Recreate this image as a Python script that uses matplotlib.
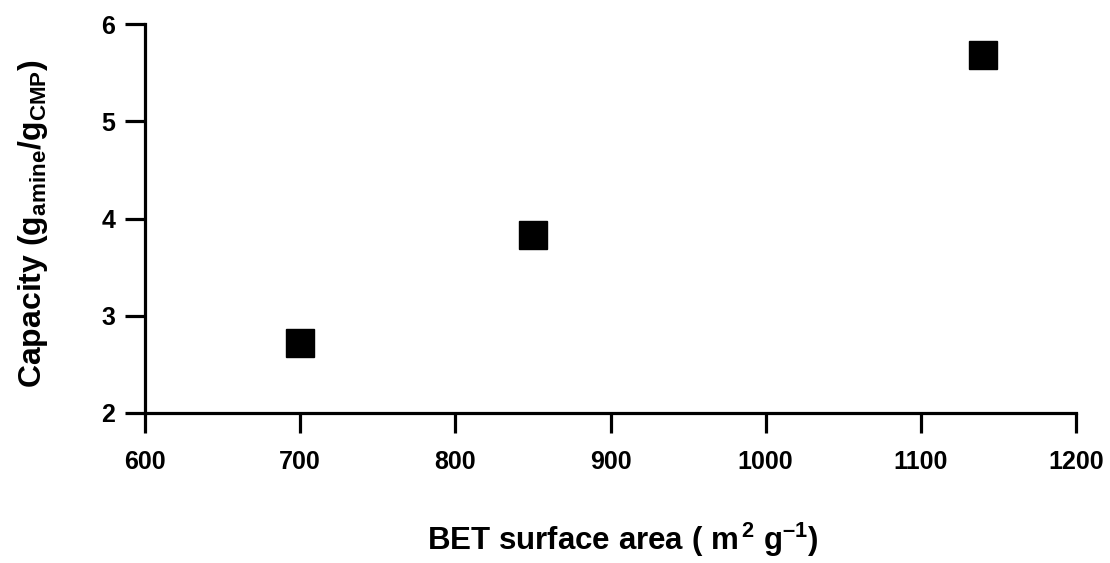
import matplotlib
matplotlib.use("Agg")
import matplotlib.pyplot as plt

bet_area = [700, 850, 1140]
capacity = [2.72, 3.83, 5.68]
x_ticks = [600, 700, 800, 900, 1000, 1100, 1200]
y_ticks = [2, 3, 4, 5, 6]

plt.rcParams['font.family'] = ['Liberation Sans', 'DejaVu Sans']
plt.rcParams['font.weight'] = 'bold'
plt.rcParams['mathtext.fontset'] = 'custom'
plt.rcParams['mathtext.rm'] = 'Liberation Sans:bold'
plt.rcParams['mathtext.it'] = 'Liberation Sans:bold'
plt.rcParams['mathtext.bf'] = 'Liberation Sans:bold'

fig = plt.figure(figsize=(11.1, 5.63), dpi=100)
ax = fig.add_axes([145/1110, 1-413/563, (1076-145)/1110, (413-24)/563])

ax.plot(bet_area, capacity, linestyle='none', marker='s', markersize=20,
        color='black', markeredgecolor='black', clip_on=False)

ax.set_xlim(600, 1200)
ax.set_ylim(2, 6)
ax.set_xticks(x_ticks)
ax.set_yticks(y_ticks)
for s in ['top', 'right']:
    ax.spines[s].set_visible(False)
for s in ['left', 'bottom']:
    ax.spines[s].set_linewidth(2.3)
ax.tick_params(direction='out', length=14.5, width=2.3, labelsize=18)
ax.tick_params(axis='x', pad=12)
ax.tick_params(axis='y', pad=7)
for lab in ax.get_xticklabels() + ax.get_yticklabels():
    lab.set_fontweight('bold')

ax.set_xlabel('BET surface area ( m$^{\\,2}$ g$^{\u20131}$)', fontsize=22.5,
              fontweight='bold', labelpad=34)
ax.xaxis.label.set_x(0.5 + 12/931)
ax.set_ylabel('Capacity (g$_{\\mathrm{amine}}$/g$_{\\mathrm{CMP}}$)', fontsize=23,
              fontweight='bold', labelpad=37)
ax.yaxis.label.set_y(0.5 - 5/389)

fig.savefig('out.png', dpi=100)
